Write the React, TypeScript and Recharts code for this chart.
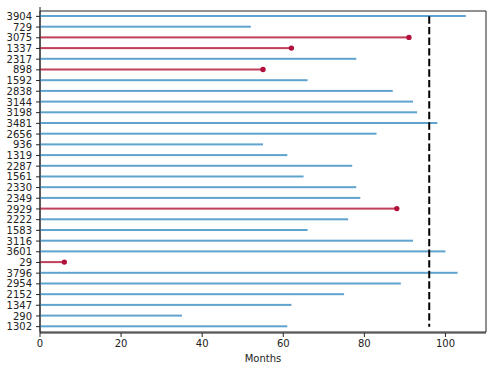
import React from 'react';
import { ComposedChart, Bar, XAxis, YAxis, ReferenceLine, ReferenceArea } from 'recharts';

// customer ids, top to bottom
const ids = [
  '3904', '729', '3075', '1337', '2317', '898', '1592', '2838', '3144', '3198',
  '3481', '2656', '936', '1319', '2287', '1561', '2330', '2349', '2929', '2222',
  '1583', '3116', '3601', '29', '3796', '2954', '2152', '1347', '290', '1302',
];
const months = [
  105, 52, 91, 62, 78, 55, 66, 87, 92, 93,
  98, 83, 55, 61, 77, 65, 78, 79, 88, 76,
  66, 92, 100, 6, 103, 89, 75, 62, 35, 61,
];
const churned = [
  false, false, true, true, false, true, false, false, false, false,
  false, false, false, false, false, false, false, false, true, false,
  false, false, false, true, false, false, false, false, false, false,
];
const cutoff = 96;
const xMax = 110;
const xTicks = [0, 20, 40, 60, 80, 100];

const BLUE = '#5fa4cf';
const RED = '#c0405a';
const DOT = '#b0103a';

const data = ids.map((id, i) => ({ id, months: months[i], churned: churned[i] }));

const Stem = (props: any) => {
  const { x, y, width, height, payload } = props;
  const color = payload.churned ? RED : BLUE;
  const cy = y + height / 2;
  return (
    <g>
      <rect x={x} y={y} width={Math.max(width, 0)} height={height} fill={color} />
      {payload.churned && <circle cx={x + width} cy={cy} r={2.7} fill={DOT} />}
    </g>
  );
};

const tickStyle = { fontFamily: 'DejaVu Sans', fontSize: 10, fill: '#222' };

export default function App() {
  return (
    <div style={{ position: 'absolute', left: 0, top: 0 }}>
      <ComposedChart
        width={493}
        height={371}
        data={data}
        layout="vertical"
        margin={{ top: 7, right: 7, left: 0, bottom: 0 }}
      >
        <XAxis
          type="number"
          dataKey="months"
          domain={[0, xMax]}
          ticks={xTicks}
          allowDataOverflow
          height={38}
          tickSize={4}
          tickMargin={3}
          tick={tickStyle}
          stroke="#222"
          label={{ value: 'Months', position: 'insideBottom', offset: 9, style: { ...tickStyle, textAnchor: 'middle' } }}
        />
        <YAxis
          type="category"
          dataKey="id"
          width={40}
          interval={0}
          padding={{ top: 4, bottom: 1 }}
          tickSize={4}
          tickMargin={4}
          tick={tickStyle}
          stroke="#222"
        />
        {/* frame: matplotlib draws all four spines */}
        <ReferenceArea x1={0} x2={xMax} fill="none" stroke="#222" strokeWidth={1} ifOverflow="visible" />
        <Bar dataKey="months" barSize={2} shape={Stem} isAnimationActive={false} />
        <ReferenceLine
          segment={[{ x: cutoff, y: ids[0] }, { x: cutoff, y: ids[ids.length - 1] }]}
          stroke="#000"
          strokeWidth={2}
          strokeDasharray="7.4 3.2"
        />
      </ComposedChart>
    </div>
  );
}
